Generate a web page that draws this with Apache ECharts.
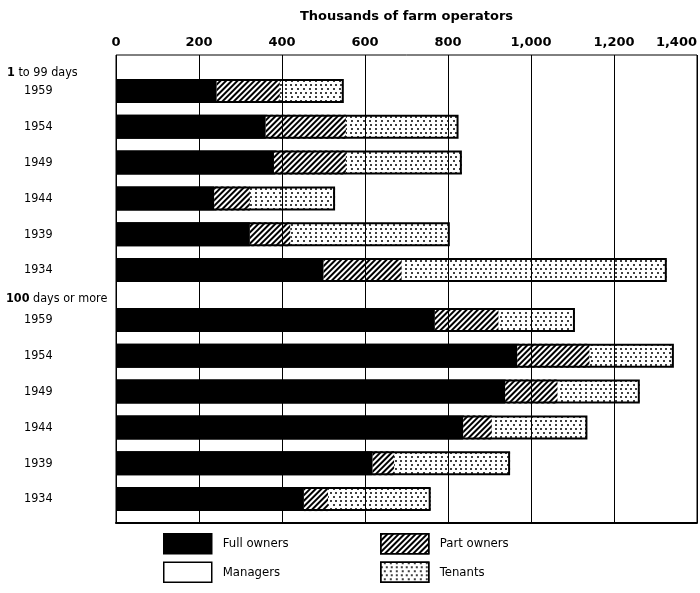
<!DOCTYPE html>
<html><head><meta charset="utf-8">
<script src="https://cdn.jsdelivr.net/npm/echarts@6/dist/echarts.min.js"></script>
<style>html,body{margin:0;padding:0;background:#fff}#c{width:700px;height:593px}</style>
</head><body><div id="c"></div>
<script>
// ---- data (thousands of farm operators) ----
const years = ['1959', '1954', '1949', '1944', '1939', '1934'];
const groupLabels = ['1 to 99 days', '100 days or more'];
const xTicks = [0, 200, 400, 600, 800, 1000, 1200, 1400];

// 1 to 99 days
const fullOwnersA = [242, 360, 380, 236, 322, 499];
const partOwnersA = [152, 193, 173, 86, 97, 188];
const managersA   = [0, 0, 0, 0, 0, 0];
const tenantsA    = [154, 271, 279, 205, 384, 638];

// 100 days or more
const fullOwnersB = [767, 965, 936, 835, 617, 452];
const partOwnersB = [153, 174, 126, 69, 52, 58];
const managersB   = [0, 0, 0, 0, 0, 0];
const tenantsB    = [184, 203, 198, 230, 279, 247];

const FONT_C = "'DejaVu Sans Condensed','DejaVu Sans',sans-serif";
const FONT_B = "'DejaVu Sans',sans-serif";

const hatch = {
  symbol: 'rect', symbolSize: 1, color: '#000', backgroundColor: 'rgba(255,255,255,0)',
  dashArrayX: [1, 0], dashArrayY: [2, 2], rotation: -Math.PI / 4
};
const dots = {
  symbol: 'circle', symbolSize: 1, color: '#000', backgroundColor: 'rgba(255,255,255,0)',
  dashArrayX: [[1.6, 2.8], [0, 2.2, 1.6, 0.6]], dashArrayY: [1.6, 2.0], rotation: 0
};

function groupSeries(g, full, part, mgr, ten) {
  const idx = g + 1;
  const base = { type: 'bar', xAxisIndex: idx, yAxisIndex: idx, stack: 's' + g,
                 barWidth: 24, barGap: '-100%', silent: true };
  const totals = full.map((v, i) => v + part[i] + mgr[i] + ten[i]);
  return [
    Object.assign({}, base, { name: 'Full owners', data: full, itemStyle: { color: '#000' } }),
    Object.assign({}, base, { name: 'Part owners', data: part, itemStyle: { color: 'rgba(255,255,255,0)', decal: hatch } }),
    Object.assign({}, base, { name: 'Managers', data: mgr, itemStyle: { color: '#fff' } }),
    Object.assign({}, base, { name: 'Tenants', data: ten, itemStyle: { color: 'rgba(255,255,255,0)', decal: dots } }),
    Object.assign({}, base, { name: 'outline', stack: 'o' + g, data: totals, z: 3,
      itemStyle: { color: 'rgba(0,0,0,0)', borderColor: '#000', borderWidth: 2 } })
  ];
}

const hiddenX = (gi) => ({ type: 'value', gridIndex: gi, min: 0, max: 1400, interval: 200, show: false });
const catY = (gi) => ({
  type: 'category', gridIndex: gi, data: years, inverse: true,
  axisLine: { show: false }, axisTick: { show: false },
  axisLabel: { align: 'left', margin: 92, fontSize: 12.5, color: '#000', fontFamily: FONT_C }
});

const legendCommon = {
  orient: 'vertical', top: 528, itemWidth: 48, itemHeight: 20, itemGap: 7, icon: 'rect',
  selectedMode: false, itemStyle: { borderColor: '#000', borderWidth: 1.5 },
  textStyle: { fontSize: 13, color: '#000', fontFamily: FONT_C, padding: [0, 0, 0, 6] }
};

const option = {
  animation: false,
  backgroundColor: '#fff',
  grid: [
    { left: 116, right: 2, top: 55, bottom: 70, show: true, borderColor: '#000', borderWidth: 1 },
    { left: 116, right: 2, top: 73, height: 215 },
    { left: 116, right: 2, top: 302, height: 215 }
  ],
  xAxis: [
    { type: 'value', gridIndex: 0, min: xTicks[0], max: xTicks[xTicks.length - 1], interval: 200,
      position: 'top',
      name: 'Thousands of farm operators', nameLocation: 'middle', nameGap: 32,
      nameTextStyle: { fontSize: 13, fontWeight: 'bold', color: '#000', fontFamily: FONT_B },
      axisLine: { show: true, lineStyle: { color: '#000', width: 2 } },
      axisTick: { show: false },
      axisLabel: { fontSize: 13, fontWeight: 'bold', color: '#000', margin: 6, fontFamily: FONT_B,
        alignMaxLabel: 'right',
        formatter: v => v.toLocaleString('en-US') },
      splitLine: { show: true, lineStyle: { color: '#000', width: 1 } } },
    hiddenX(1), hiddenX(2)
  ],
  yAxis: [
    { type: 'value', gridIndex: 0, show: false },
    catY(1), catY(2)
  ],
  legend: [
    Object.assign({}, legendCommon, { data: ['Full owners', 'Managers'], left: 158 }),
    Object.assign({}, legendCommon, { data: ['Part owners', 'Tenants'], left: 375 })
  ],
  graphic: [
    { type: 'text', left: 7, top: 66,
      style: { text: '{b|1} to 99 days', fill: '#000', font: '12.5px ' + FONT_C,
        rich: { b: { fontWeight: 'bold', fontSize: 12.5, fontFamily: FONT_C } } } },
    { type: 'text', left: 6, top: 292,
      style: { text: '{b|100} days or more', fill: '#000', font: '12.5px ' + FONT_C,
        rich: { b: { fontWeight: 'bold', fontSize: 12.5, fontFamily: FONT_C } } } }
  ],
  series: [].concat(
    groupSeries(0, fullOwnersA, partOwnersA, managersA, tenantsA),
    groupSeries(1, fullOwnersB, partOwnersB, managersB, tenantsB)
  )
};
echarts.init(document.getElementById('c')).setOption(option);
</script></body></html>
